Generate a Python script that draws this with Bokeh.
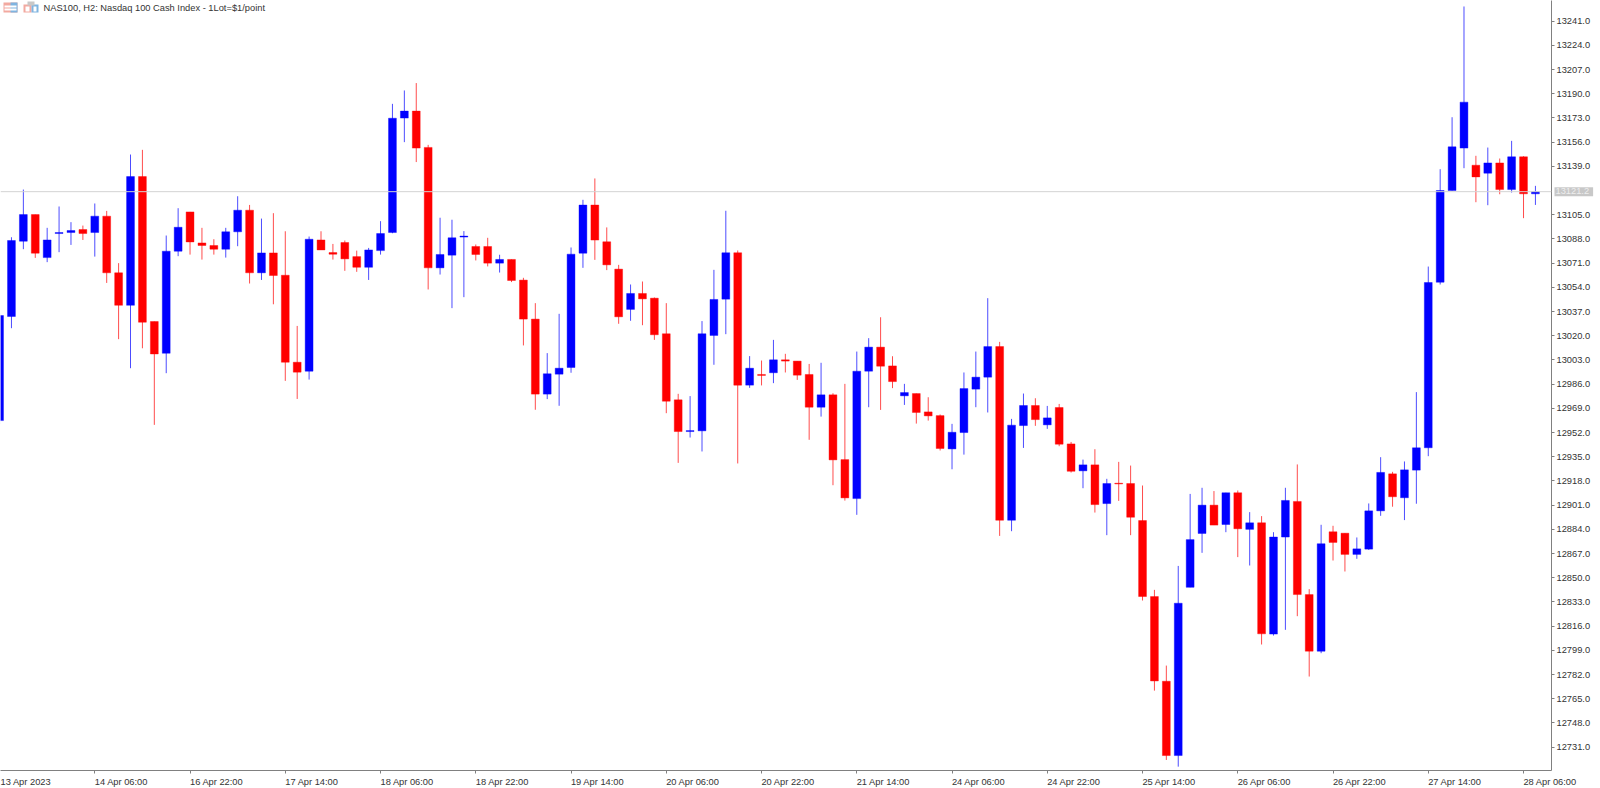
from bokeh.plotting import figure
from bokeh.models import ColumnDataSource, Range1d, FixedTicker, Span, Label, NumeralTickFormatter, LinearAxis, BoxAnnotation
from bokeh.embed import file_html
from bokeh.resources import INLINE

title_text = "NAS100, H2:  Nasdaq 100 Cash Index - 1Lot=$1/point"
last_price = 13121.2

opens = [12960.4,13033.5,13086.4,13105.1,13074.9,13091.8,13092.5,13094.6,13092.5,13104.0,
 13064.2,13041.4,13131.8,13030.0,13007.7,13079.4,13107.0,13085.2,13083.4,13080.8,
 13093.0,13108.2,13064.2,13078.2,13062.5,13001.4,12995.1,13087.3,13078.4,13085.5,
 13075.6,13068.1,13079.8,13092.5,13172.9,13177.8,13152.3,13067.7,13076.6,13089.3,
 13082.7,13082.7,13071.0,13073.6,13059.1,13031.7,12979.0,12993.0,12997.7,13078.0,
 13111.8,13086.0,13066.8,13038.5,13049.7,13046.4,13021.4,12975.0,12952.7,12953.2,
 13020.2,13045.7,13078.3,12985.3,12992.8,12994.0,13003.1,13002.2,12992.8,12969.8,
 12978.5,12933.0,12905.6,12995.1,13012.0,12998.8,12977.8,12979.4,12966.5,12963.9,
 12940.5,12952.0,12982.5,12990.9,13012.4,12890.4,12956.9,12971.0,12957.4,12969.6,
 12944.0,12925.1,12929.3,12902.1,12916.4,12916.2,12890.2,12836.8,12777.3,12725.1,
 12843.3,12881.1,12901.0,12887.4,12909.7,12884.0,12888.6,12810.4,12878.6,12903.6,
 12838.2,12798.4,12882.3,12881.3,12866.4,12870.1,12897.0,12923.0,12906.2,12925.6,
 12941.3,13057.6,13122.0,13151.8,13139.8,13134.2,13141.4,13122.7,13145.7,13119.7]
highs = [13036.0,13089.2,13122.7,13105.1,13095.8,13110.8,13099.8,13097.4,13112.9,13107.7,
 13071.0,13147.3,13150.6,13030.0,13090.4,13109.6,13107.0,13095.8,13087.8,13095.8,
 13118.0,13111.9,13102.3,13106.1,13093.4,13026.9,13089.7,13093.4,13084.5,13086.9,
 13079.8,13081.7,13100.5,13182.9,13192.3,13197.5,13154.1,13102.9,13101.5,13093.5,
 13084.1,13088.8,13076.9,13073.6,13060.7,13042.9,13007.8,13035.4,13082.0,13115.5,
 13130.5,13096.1,13069.8,13056.0,13058.1,13046.9,13042.9,12979.2,12977.6,13030.3,
 13066.3,13107.8,13079.9,13005.7,13002.6,13017.1,13007.3,13002.2,13000.2,13001.0,
 12979.6,12986.2,13008.9,13018.3,13033.0,13005.6,12986.2,12979.4,12976.8,12964.7,
 12958.1,12994.2,13008.9,13046.4,13015.7,12961.6,12979.4,12976.1,12970.7,12972.1,
 12945.4,12933.0,12940.3,12919.5,12931.4,12928.8,12914.8,12841.5,12788.3,12858.3,
 12908.9,12913.2,12910.9,12909.7,12911.3,12896.1,12893.3,12882.0,12913.2,12929.6,
 12842.0,12887.2,12886.5,12881.3,12878.3,12902.2,12934.7,12924.4,12931.7,12980.4,
 13068.6,13137.0,13173.5,13251.3,13146.4,13152.2,13144.5,13156.9,13146.1,13125.3]
lows = [12958.0,13025.3,13080.8,13074.7,13071.7,13078.7,13083.8,13087.3,13075.6,13057.1,
 13017.6,12997.2,13011.2,12957.4,12993.7,13075.9,13077.0,13073.5,13077.0,13074.9,
 13082.9,13056.7,13059.2,13042.1,12988.3,12975.6,12989.2,13080.3,13073.5,13065.6,
 13064.9,13059.2,13077.0,13092.0,13156.0,13142.0,13052.5,13063.0,13039.4,13047.1,
 13072.9,13068.7,13064.4,13057.7,13013.2,12968.0,12975.5,12970.8,12994.0,13067.7,
 13073.3,13066.1,13028.4,13030.5,13027.4,13017.1,12965.6,12930.7,12948.5,12938.7,
 12999.6,13021.1,12930.3,12983.4,12985.1,12986.7,12994.2,12989.0,12946.9,12963.2,
 12915.0,12904.2,12894.2,12969.8,12967.9,12983.2,12971.4,12958.3,12960.4,12939.4,
 12926.2,12936.5,12969.8,12966.1,12879.4,12882.7,12941.2,12956.7,12954.6,12942.4,
 12923.9,12912.9,12895.8,12879.9,12904.0,12879.9,12834.0,12770.7,12722.0,12717.3,
 12843.3,12867.5,12887.0,12882.0,12864.5,12858.6,12803.1,12809.4,12813.4,12823.0,
 12780.6,12797.0,12862.1,12854.4,12863.3,12869.6,12893.5,12899.9,12890.5,12902.0,
 12935.4,13056.0,13122.0,13137.7,13113.8,13111.7,13119.4,13120.6,13102.6,13111.9]
closes = [13034.2,13086.9,13105.1,13078.0,13087.3,13092.5,13093.9,13091.8,13104.0,13064.2,
 13041.4,13131.8,13029.5,13007.2,13079.4,13096.2,13085.9,13083.4,13080.8,13093.0,
 13108.2,13064.2,13078.2,13062.3,13001.4,12994.4,13087.8,13080.3,13077.3,13074.0,
 13068.1,13080.3,13091.8,13172.8,13177.8,13151.8,13067.7,13077.1,13088.8,13090.0,
 13077.1,13071.0,13073.6,13058.8,13031.7,12979.0,12993.3,12997.2,13077.3,13111.8,
 13087.2,13069.8,13033.3,13049.7,13045.9,13020.7,12974.0,12952.7,12953.4,13021.4,
 13045.5,13078.3,12985.3,12997.2,12992.1,13003.1,13002.2,12992.3,12969.8,12978.5,
 12932.8,12906.1,12995.1,13012.0,12998.6,12987.8,12980.1,12966.1,12963.7,12940.8,
 12952.2,12982.9,12990.9,13012.4,12890.4,12957.2,12971.0,12961.1,12962.3,12943.8,
 12924.8,12929.3,12901.4,12916.2,12915.9,12892.5,12836.8,12777.5,12725.1,12832.1,
 12876.8,12901.0,12887.0,12909.7,12884.4,12888.6,12810.6,12878.6,12904.3,12838.2,
 12798.4,12873.9,12874.8,12866.4,12870.3,12897.0,12924.0,12906.9,12925.8,12941.3,
 13057.4,13122.0,13152.7,13184.1,13131.6,13141.4,13122.7,13145.7,13119.7,13121.1]

price_ticks = [13241,13224,13207,13190,13173,13156,13139,13105,13088,13071,13054,13037,13020,13003,
 12986,12969,12952,12935,12918,12901,12884,12867,12850,12833,12816,12799,12782,12765,12748,12731]
date_ticks = [8,16,24,32,40,48,56,64,72,80,88,96,104,112,120,128]
date_labels = ["14 Apr 06:00","16 Apr 22:00","17 Apr 14:00","18 Apr 06:00","18 Apr 22:00","19 Apr 14:00",
 "20 Apr 06:00","20 Apr 22:00","21 Apr 14:00","24 Apr 06:00","24 Apr 22:00","25 Apr 14:00",
 "26 Apr 06:00","26 Apr 22:00","27 Apr 14:00","28 Apr 06:00"]
first_label = "13 Apr 2023"

FONT = "Liberation Sans"
FS = "9.3px"
TEXT = "#333333"
AXIS = "#808080"
X0, X1 = 0.08, 130.35
LABEL_SHIFT = 2.23

idx = list(range(len(opens)))
colors = ["#0000ff" if c >= o else "#ff0000" for o, c in zip(opens, closes)]
source = ColumnDataSource(dict(x=idx, o=opens, h=highs, l=lows, c=closes, color=colors))

p = figure(width=1600, height=788, frame_width=1551, frame_height=770,
           x_range=Range1d(X0, X1), y_range=Range1d(12714.6, 13255.5),
           x_axis_location=None, y_axis_location="right",
           toolbar_location=None, output_backend="svg",
           background_fill_color="white", border_fill_color="white",
           min_border_left=0, min_border_top=0, min_border_right=49, min_border_bottom=18,
           outline_line_color=None)
p.margin = 0
p.grid.visible = False

p.segment("x", "h", "x", "l", source=source, line_color="color", line_width=1, line_alpha=0.7)
p.vbar(x="x", top="o", bottom="c", width=0.66, source=source,
       fill_color="color", line_color="color", line_width=0.4)

p.add_layout(Span(location=last_price, dimension="width", line_color="#d3d3d3", line_width=1))

yax = p.yaxis[0]
yax.ticker = FixedTicker(ticks=price_ticks)
yax.formatter = NumeralTickFormatter(format="0.0")
yax.axis_line_color = AXIS
yax.major_tick_line_color = AXIS
yax.major_tick_in = 0
yax.major_tick_out = 3
yax.minor_tick_line_color = None
yax.major_label_standoff = 2
yax.major_label_text_font = FONT
yax.major_label_text_font_size = FS
yax.major_label_text_color = TEXT

# tick labels begin at their tick: labels on an axis whose range is offset by half a label,
# its minor ticks give the tick marks at the candles themselves
p.extra_x_ranges["labels"] = Range1d(X0 - LABEL_SHIFT, X1 - LABEL_SHIFT)
lab_ticks = [-0.13] + date_ticks
lab_ax = LinearAxis(x_range_name="labels",
                    ticker=FixedTicker(ticks=lab_ticks, minor_ticks=[t - LABEL_SHIFT for t in date_ticks]),
                    major_label_overrides=dict(zip(lab_ticks, [first_label] + date_labels)),
                    axis_line_color=AXIS, major_tick_line_color=None, minor_tick_line_color=AXIS,
                    minor_tick_in=0, minor_tick_out=3, major_tick_in=0, major_tick_out=0,
                    major_label_standoff=3, major_label_text_font=FONT, major_label_text_font_size=FS,
                    major_label_text_color=TEXT)
p.add_layout(lab_ax, "below")

p.add_layout(Label(x=43, y=763, x_units="screen", y_units="screen", text=title_text, text_font=FONT,
                   text_font_size=FS, text_color=TEXT, text_align="left", text_baseline="middle"))
p.add_layout(Label(x=-39, y=last_price, x_units="screen", y_units="data", text=f"{last_price:.1f}",
                   text_font=FONT, text_font_size=FS, text_color="#eeeeee", text_align="left",
                   text_baseline="middle", background_fill_color="#c8c8c8", padding=(1, 4, 1, 2)), "right")

# the two toolbar-style icons left of the title
for l, r, b, t, c in [(3, 17, 758, 768, "#f2a9a0"), (10, 17, 758, 768, "#7fb4e0"),
                      (4, 16, 760, 762, "#ffffff"), (4, 16, 763, 765, "#ffffff"),
                      (23, 31, 758, 766, "#f2a9a0"), (31, 38, 758, 766, "#7fb4e0"),
                      (25, 29, 759, 764, "#ffffff"), (33, 36, 759, 764, "#ffffff"),
                      (27, 34, 765, 769, "#c8c8c8")]:
    p.add_layout(BoxAnnotation(left=l, right=r, bottom=b, top=t, left_units="screen", right_units="screen",
                               bottom_units="screen", top_units="screen", fill_color=c, fill_alpha=1,
                               line_color=None))

open("out.html", "w").write(file_html(p, INLINE))
